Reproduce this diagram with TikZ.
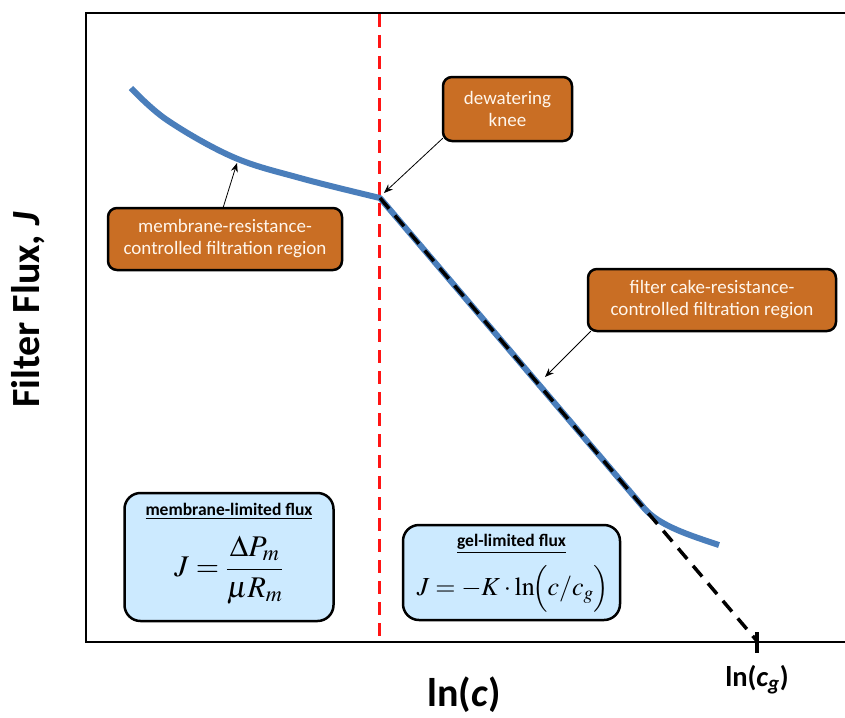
\documentclass[tikz,border=0pt]{standalone}
\usepackage{mathptmx}
\usepackage[no-math]{fontspec}
\setmainfont{Carlito}
\usetikzlibrary{arrows.meta}
\definecolor{boxorange}{RGB}{201,110,36}
\definecolor{boxblue}{RGB}{204,234,255}
\definecolor{curveblue}{RGB}{74,126,187}
\definecolor{dashred}{RGB}{255,20,20}
\definecolor{boxtext}{RGB}{255,246,236}
\begin{document}
\begin{tikzpicture}[x=1pt,y=-1pt,
  orangebox/.style={draw=black, line width=2.5pt, rounded corners=9pt, fill=boxorange, text=boxtext, align=center, font=\fontsize{19}{22}\selectfont, inner sep=0pt},
  bluebox/.style={draw=black, line width=2.5pt, rounded corners=16pt, fill=boxblue, inner sep=0pt},
  boxtitle/.style={font=\fontsize{17.5}{20}\selectfont\bfseries, inner sep=0pt},
  formula/.style={inner sep=0pt},
  pointer/.style={-{Stealth[length=9pt,width=7pt]}, line width=0.8pt},
  axislabel/.style={font=\fontsize{40}{44}\selectfont\bfseries, inner sep=0pt}]
\useasboundingbox (0,0) rectangle (845,717);
% frame
\draw[line width=2.5pt] (845,13) -- (86,13) -- (86,642) -- (845,642);
% red dashed divider
\coordinate (redtop) at (379,14);
\coordinate (redbot) at (379,642);
\draw[dashred, line width=3pt, dash pattern=on 13pt off 8pt] (redtop) -- (redbot);
% curve
\coordinate (knee) at (380,198);
\coordinate (bend) at (644,508);
\coordinate (cg) at (757,641);
\draw[curveblue, line width=6pt, line join=round]
  plot[smooth, tension=0.6] coordinates {(131,88) (167,120) (233,157) (300,178) (380,198)}
  -- (bend) .. controls (659,526) and (692,536) .. (719,545);
\draw[black, line width=3.5pt, dash pattern=on 14pt off 9pt] (knee) -- (cg);
\draw[line width=4pt] (757,632) -- (757,653);
% orange boxes
\node[orangebox, minimum width=234pt, minimum height=62pt] (mrc) at (225,239) {membrane-resistance-\\controlled filtration region};
\node[orangebox, minimum width=129pt, minimum height=64pt] (dk) at (507.5,109) {dewatering\\knee};
\node[orangebox, minimum width=248pt, minimum height=62pt] (fcr) at (712,300) {filter cake-resistance-\\controlled filtration region};
% pointers
\coordinate (p1) at (237,163);
\coordinate (p2) at (384,193);
\coordinate (p3) at (545,377);
\draw[pointer] (223,208) -- (p1);
\draw[pointer] (dk.south west) ++(1,-4) -- (p2);
\draw[pointer] (fcr.south west) ++(4,-1) -- (p3);
% blue boxes
\node[bluebox, minimum width=209pt, minimum height=128pt] (mlf) at (229,557) {};
\node[boxtitle] (mlft) at (229,511) {\underline{membrane-limited flux}};
\node[formula, font=\fontsize{30}{34}\selectfont] (mlff) at (229,570) {$\displaystyle J=\frac{\Delta P_m}{\mu R_m}$};
\node[bluebox, minimum width=217pt, minimum height=95pt] (glf) at (511.5,572.5) {};
\node[boxtitle] (glft) at (511.5,544) {\underline{gel-limited flux}};
\node[formula, font=\fontsize{26}{30}\selectfont] (glff) at (513,589) {$J=-K\cdot\ln\!\Bigl(c/c_g\Bigr)$};
% axis labels
\node[axislabel, rotate=90] (ylab) at (28,310) {Filter Flux, \textit{J}};
\node[axislabel] (xlab) at (464,695) {ln(\textit{c})};
\node[font=\fontsize{28.5}{32}\selectfont\bfseries, inner sep=0pt] (cglab) at (757,680) {ln(\textit{c\textsubscript{g}})};
\end{tikzpicture}
\end{document}
